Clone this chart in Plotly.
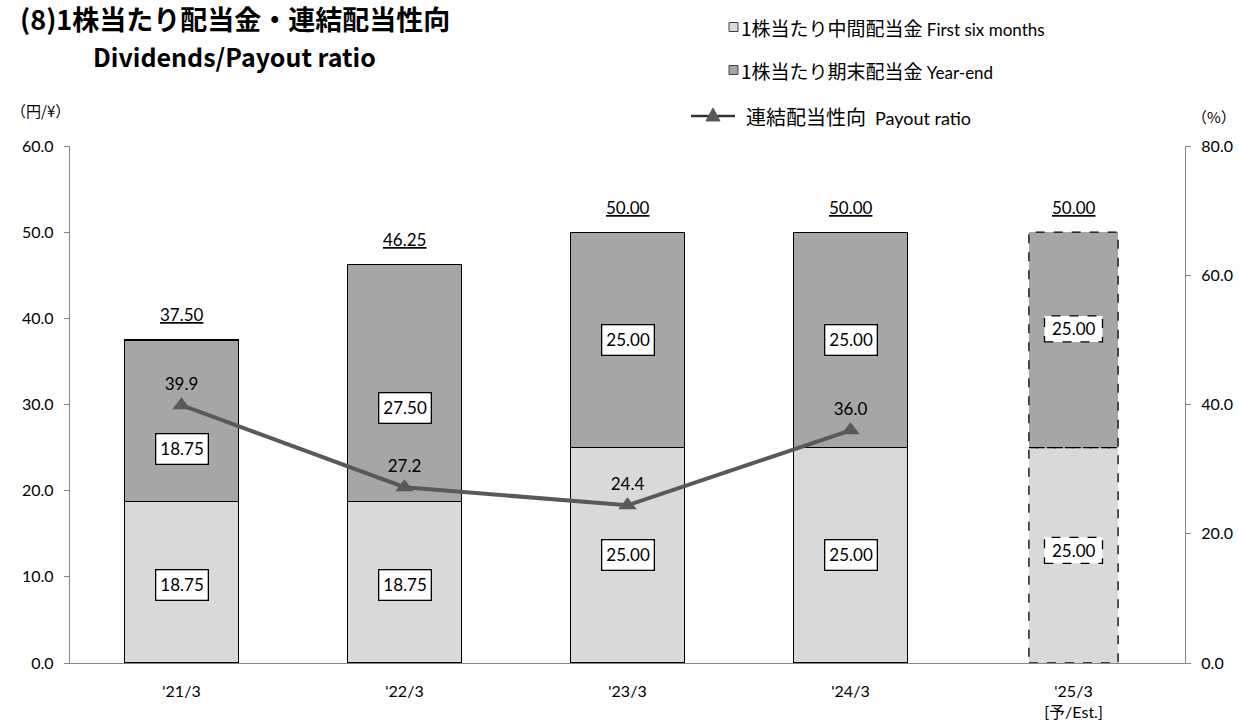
import plotly.graph_objects as go

# ---- data ----
periods = ["'21/3", "'22/3", "'23/3", "'24/3", "'25/3<br>[予/Est.]"]
interim_div = [18.75, 18.75, 25.00, 25.00, 25.00]
year_end_div = [18.75, 27.50, 25.00, 25.00, 25.00]
total_div = [37.50, 46.25, 50.00, 50.00, 50.00]
payout_ratio = [39.9, 27.2, 24.4, 36.0]
is_forecast = [False, False, False, False, True]

# ---- style ----
W, H = 1239, 725
L, R, T, B = 70, 54, 146, 62
PW, PH = W - L - R, H - T - B
BAR_W_ACTUAL = 0.51
BAR_W_FORECAST = 0.40
C_INTERIM = "#d9d9d9"
C_YEAREND = "#a6a6a6"
C_LINE = "#595959"
AXIS_C = "#868686"
FONT = "Lato, 'Noto Sans CJK JP', sans-serif"
CJK = "'Noto Sans CJK JP', sans-serif"


def px_x(X):
    return (X - L) / PW


def px_y(Y):
    return (H - B - Y) / PH


idx = list(range(len(periods)))
bar_w = [BAR_W_FORECAST if f else BAR_W_ACTUAL for f in is_forecast]

fig = go.Figure()

# stacked bars (forecast outline drawn separately as dashed shapes)
line_w = [0 if f else 1.3 for f in is_forecast]
fig.add_trace(go.Bar(
    x=idx, y=interim_div, width=bar_w, name="1株当たり中間配当金 First six months",
    marker=dict(color=C_INTERIM, line=dict(color="black", width=line_w)),
    hoverinfo="skip"))
fig.add_trace(go.Bar(
    x=idx, y=year_end_div, width=bar_w, name="1株当たり期末配当金 Year-end",
    marker=dict(color=C_YEAREND, line=dict(color="black", width=line_w)),
    hoverinfo="skip"))

# payout ratio line
fig.add_trace(go.Scatter(
    x=idx[:len(payout_ratio)], y=payout_ratio, yaxis="y2", mode="lines+markers+text",
    name="連結配当性向 Payout ratio",
    line=dict(color=C_LINE, width=4),
    marker=dict(symbol="triangle-up", size=16, color=C_LINE),
    text=[f"{v:.1f}" for v in payout_ratio], textposition="top center",
    textfont=dict(family=FONT, size=17, color="black"),
    hoverinfo="skip", cliponaxis=False))

shapes = []
annotations = []

# dashed outlines for forecast bars
for i, f in enumerate(is_forecast):
    if not f:
        continue
    bottom = 0
    for seg in (interim_div[i], year_end_div[i]):
        shapes.append(dict(type="rect", xref="x", yref="y",
                           x0=i - bar_w[i] / 2, x1=i + bar_w[i] / 2,
                           y0=bottom, y1=bottom + seg,
                           line=dict(color="black", width=1.3, dash="dash"),
                           fillcolor="rgba(0,0,0,0)", layer="above"))
        bottom += seg

# segment value labels (pixel nudges keep them clear of the ratio labels)
lower_shift = [-3, -3, 0, 0, 5]
upper_shift = [-28, -25, 0, 0, 11]
for i in idx:
    segs = [(interim_div[i] / 2, interim_div[i], lower_shift[i]),
            (interim_div[i] + year_end_div[i] / 2, year_end_div[i], upper_shift[i])]
    for ymid, val, ys in segs:
        if is_forecast[i]:
            shapes.append(dict(type="rect", xref="x", yref="y",
                               xsizemode="pixel", ysizemode="pixel",
                               xanchor=i, yanchor=ymid,
                               x0=-29, x1=29, y0=ys - 13, y1=ys + 13,
                               line=dict(color="black", width=1.3, dash="dash"),
                               fillcolor="white", layer="above"))
            annotations.append(dict(
                x=i, y=ymid, xref="x", yref="y", text=f"{val:.2f}", showarrow=False,
                yshift=ys, font=dict(family=FONT, size=17, color="black")))
        else:
            annotations.append(dict(
                x=i, y=ymid, xref="x", yref="y", text=f"{val:.2f}", showarrow=False,
                yshift=ys, bgcolor="white", borderpad=4, borderwidth=1.3,
                bordercolor="black",
                font=dict(family=FONT, size=17, color="black")))

# totals above bars, underlined
for i in idx:
    annotations.append(dict(
        x=i, y=total_div[i], xref="x", yref="y", text=f"<u>{total_div[i]:.2f}</u>",
        showarrow=False, yshift=25, font=dict(family=FONT, size=17, color="black")))

# titles
annotations.append(dict(x=px_x(18), y=px_y(18), xref="paper", yref="paper",
                        xanchor="left", yanchor="middle", showarrow=False,
                        text="<b>(8)1株当たり配当金・連結配当性向</b>",
                        font=dict(family=CJK, size=27, color="black")))
annotations.append(dict(x=px_x(91), y=px_y(56), xref="paper", yref="paper",
                        xanchor="left", yanchor="middle", showarrow=False,
                        text="<b>Dividends/Payout ratio</b>",
                        font=dict(family=CJK, size=25, color="black")))

# axis unit labels
annotations.append(dict(x=px_x(9), y=px_y(110), xref="paper", yref="paper",
                        xanchor="left", yanchor="middle", showarrow=False,
                        text="（円/¥）", font=dict(family=CJK, size=15, color="black")))
annotations.append(dict(x=px_x(1190), y=px_y(117), xref="paper", yref="paper",
                        xanchor="left", yanchor="middle", showarrow=False,
                        text="（%）", font=dict(family=CJK, size=15, color="black")))

# custom legend
legend_rows = [
    (27, C_INTERIM, "1株当たり中間配当金 <span style='font-family:Lato;font-size:17px'>First six months</span>"),
    (70, C_YEAREND, "1株当たり期末配当金 <span style='font-family:Lato;font-size:17px'>Year-end</span>"),
]
for yy, col, txt in legend_rows:
    shapes.append(dict(type="rect", xref="paper", yref="paper",
                       x0=px_x(729), x1=px_x(738), y0=px_y(yy + 4.5), y1=px_y(yy - 4.5),
                       fillcolor=col, line=dict(color="#404040", width=1)))
    annotations.append(dict(x=px_x(739), y=px_y(yy), xref="paper", yref="paper",
                            xanchor="left", yanchor="middle", showarrow=False, text=txt,
                            font=dict(family=CJK, size=19, color="black")))

shapes.append(dict(type="line", xref="paper", yref="paper",
                   x0=px_x(691), x1=px_x(735), y0=px_y(116), y1=px_y(116),
                   line=dict(color="#333333", width=2.5)))
tri = [(706, 121), (720, 121), (713, 108)]
tri_path = "M " + " L ".join(f"{px_x(a):.5f},{px_y(b):.5f}" for a, b in tri) + " Z"
shapes.append(dict(type="path", xref="paper", yref="paper", path=tri_path,
                   fillcolor=C_LINE, line=dict(color=C_LINE, width=1)))
annotations.append(dict(x=px_x(744), y=px_y(116), xref="paper", yref="paper",
                        xanchor="left", yanchor="middle", showarrow=False,
                        text="連結配当性向  <span style='font-family:Lato;font-size:18px'>Payout ratio</span>",
                        font=dict(family=CJK, size=20, color="black")))

fig.update_layout(
    width=W, height=H,
    margin=dict(l=L, r=R, t=T, b=B, autoexpand=False),
    paper_bgcolor="white", plot_bgcolor="white",
    barmode="stack", showlegend=False,
    font=dict(family=FONT, size=16, color="black"),
    xaxis=dict(tickmode="array", tickvals=idx, ticktext=periods,
               range=[-0.5, len(periods) - 0.5],
               showline=True, linecolor=AXIS_C, linewidth=1.3,
               ticks="", showgrid=False, zeroline=False, ticklabelstandoff=14,
               tickfont=dict(family=FONT, size=16)),
    yaxis=dict(range=[0, 60], dtick=10, tickformat=".1f",
               showline=True, linecolor=AXIS_C, linewidth=1.3,
               ticks="outside", ticklen=5, tickcolor=AXIS_C,
               showgrid=False, zeroline=False, ticklabelstandoff=7,
               tickfont=dict(family=FONT, size=16)),
    yaxis2=dict(range=[0, 80], dtick=20, tickformat=".1f", overlaying="y",
                side="right", showline=True, linecolor=AXIS_C, linewidth=1.3,
                ticks="outside", ticklen=5, tickcolor=AXIS_C,
                showgrid=False, zeroline=False, ticklabelstandoff=7,
                tickfont=dict(family=FONT, size=16)),
    shapes=shapes, annotations=annotations,
)

fig.write_html("out.html")
